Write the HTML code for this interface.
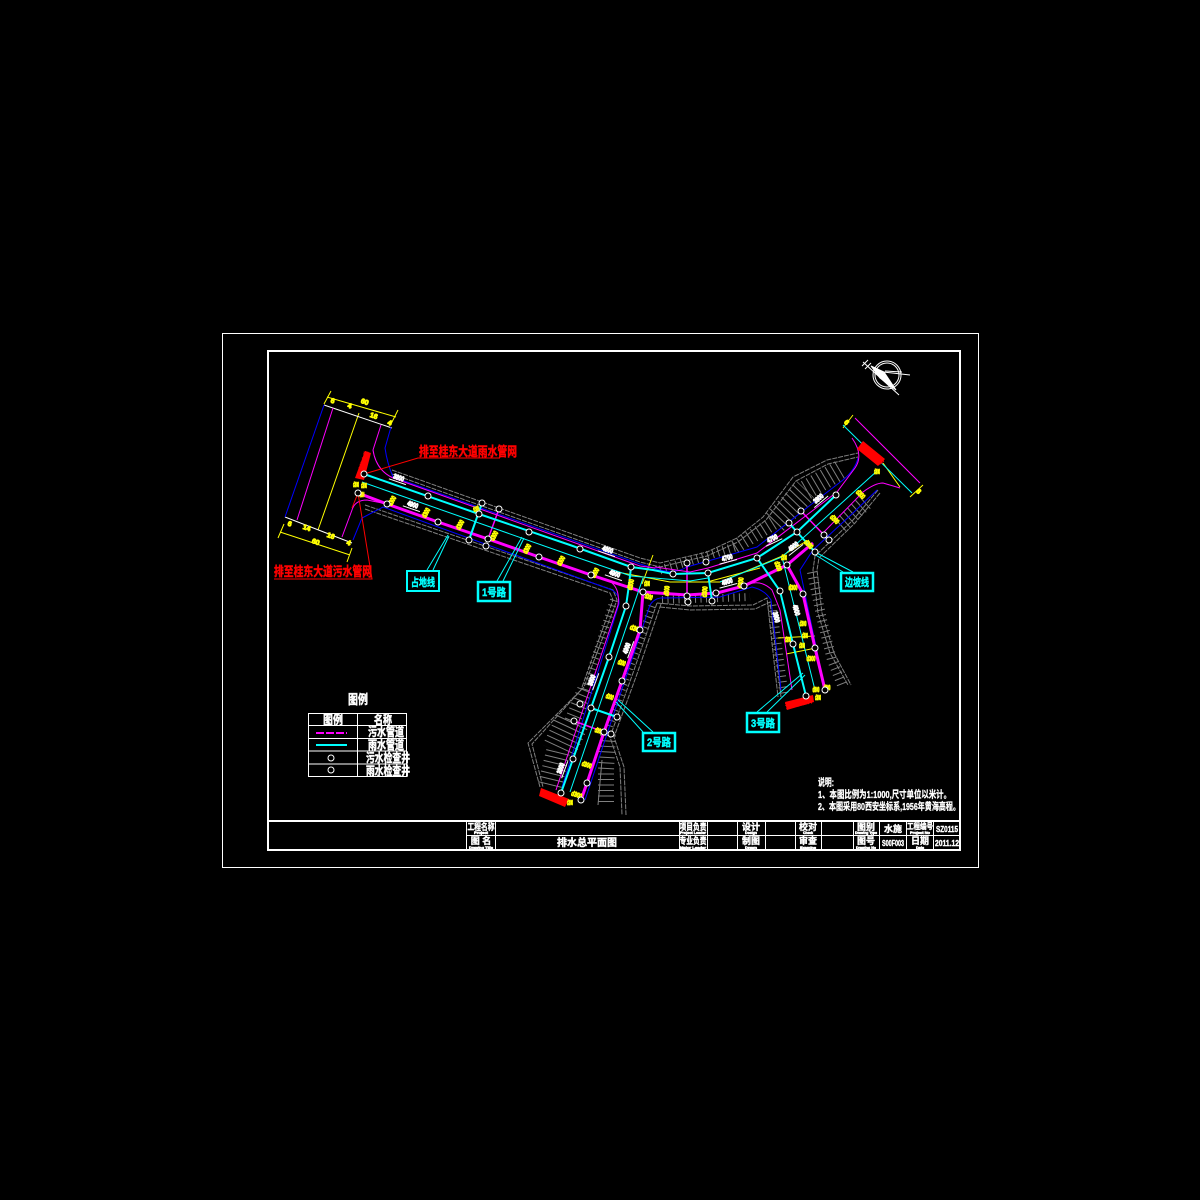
<!DOCTYPE html>
<html><head><meta charset="utf-8"><style>
html,body{margin:0;padding:0;background:#000}
svg{display:block}
text{font-family:"Liberation Sans","Noto Sans CJK SC",sans-serif;font-weight:700}
.h{fill:none;stroke:#808080;stroke-dasharray:1 4.5}
.g{fill:none;stroke:#808080;stroke-width:1}
.b{fill:none;stroke:#0000ff;stroke-width:1}
.m{fill:none;stroke:#ff00ff;stroke-width:1}
.M{fill:none;stroke:#ff00ff;stroke-width:3}
.c{fill:none;stroke:#00ffff;stroke-width:1}
.C{fill:none;stroke:#00ffff;stroke-width:2}
.y{fill:none;stroke:#ffff00;stroke-width:1}
.r{fill:none;stroke:#ff0000;stroke-width:1}
.w{fill:none;stroke:#fff;stroke-width:1}
.o circle{fill:#000;stroke:#fff;stroke-width:1;r:3px}
.yt text{fill:#ff0;stroke:#ff0;stroke-width:.9px;font-size:7px;text-anchor:middle}
.wt text{fill:#fff;stroke:#fff;stroke-width:1px;font-size:7px;text-anchor:middle}
.wt path{stroke:#fff;stroke-width:1;fill:none}
.rt{fill:#f00;stroke:#f00;stroke-width:.5px;font-size:13px}
.ct{fill:#0ff;stroke:#0ff;stroke-width:.4px;font-size:11px;text-anchor:middle}
.tt text{fill:#fff;stroke:#fff;stroke-width:.4px;font-size:9px;text-anchor:middle}
.tt text.s{font-size:4px;stroke-width:.6px}
.lg text{fill:#fff;stroke:#fff;stroke-width:.5px;text-anchor:middle;font-size:12px}
.nt text{fill:#fff;stroke:#fff;stroke-width:.3px;font-size:10px}
</style></head><body>
<svg width="1200" height="1200" viewBox="0 0 1200 1200" xmlns="http://www.w3.org/2000/svg">
<rect width="1200" height="1200" fill="#000"/>
<rect x="222.5" y="333.5" width="756" height="534" fill="none" stroke="#fff"/>
<rect x="268" y="351" width="692" height="499" fill="none" stroke="#fff" stroke-width="2"/>
<path d="M268 821H960" stroke="#fff" stroke-width="2"/>
<path d="M466 835.5H960M466.5 821V850M495.5 821V850M679.5 821V850M707.5 821V850M737.5 821V850M765.5 821V850M795.5 821V850M821.5 821V850M853.5 821V850M879.5 821V850M906.5 821V850M933.5 821V850" stroke="#fff" fill="none"/>

<!-- hatch -->
<g class="h">
<path stroke-width="9" d="M660 570L735 547"/>
<path stroke-width="14" d="M735 547L775 522"/>
<path stroke-width="25" d="M775 522L806 490"/>
<path stroke-width="20" d="M806 490L840 470"/>
<path stroke-width="8" d="M662 600L750 597"/>
<path stroke-width="8" d="M614 600L585 690"/>
<path stroke-width="16" d="M585 690L572 722"/>
<path stroke-width="34" d="M572 722L558 752"/>
<path stroke-width="24" d="M558 752L550 785"/>
<path stroke-width="7" d="M652 606L622 690L608 730"/>
<path stroke-width="16" d="M608 735L606 770L606 805"/>
<path stroke-width="9" d="M772 605L784 695"/>
<path stroke-width="10" d="M812 572L822 620L832 660L842 685"/>
<path stroke-width="16" d="M840 525L868 500"/>
</g>

<!-- gray boundaries -->
<g class="g">
<path d="M392 470L640 558L660 563L707 552L737 538L763 517L793 477L827 460L858 453" stroke-dasharray="5 1"/>
<path d="M392 474L640 562L660 567L707 556L738 542L766 520L796 481L828 464L858 457" stroke-dasharray="5 1"/>
<path d="M365 505L613 590L617 600L584 687L528 743L540 787" stroke-dasharray="5 1"/>
<path d="M365 509L610 593L613 600L581 690L532 744L543 787" stroke-dasharray="5 1"/>
<path d="M657 603L633 673L610 737L620 767L622 815" stroke-dasharray="5 1"/>
<path d="M661 604L637 674L614 737L624 767L626 815" stroke-dasharray="5 1"/>
<path d="M657 603L690 606L753 605L767 598L778 697" stroke-dasharray="5 1"/>
<path d="M660 607L690 610L755 609L770 602L781 697" stroke-dasharray="5 1"/>
<path d="M878 490L853 520L815 556L813 570L818 613L830 653L848 685" stroke-dasharray="5 1"/>
<path d="M880 493L855 523L819 558L817 570L822 613L834 653L851 685" stroke-dasharray="5 1"/>
<path d="M598 805L602 760"/>
</g>

<!-- left end -->
<g class="y">
<path d="M327 397L396 417M324 404L331 391M391 424L398 410"/>
<path d="M280 532L350 555M278 538L284 524M347 562L352 548"/>
<path d="M359 413L318 530"/>
<path d="M653 555L642 584"/>
<path d="M617 572L670 582L707 582L760 568"/>
<path d="M680 582L720 582L780 557L805 542"/>
<path d="M778 638L815 636M786 654L816 648"/>
<path d="M843 428L853 415M910 497L923 485"/>
<path d="M883 463L900 487"/>
</g>
<path class="w" d="M324 405L392 428M285 517L352 543" stroke-width="1.5"/>

<g class="b">
<path d="M324 405L285 517"/>
<path d="M391 427L385 448C387 462 390 470 393 477L640 564L660 570Q675 574 687 567L757 547L813 503L843 480Q855 470 858 458"/>
<path d="M353 540L362 518L383 507L612 590Q620 595 619 604L562 787"/>
<path d="M650 605L585 800"/>
<path d="M650 605Q655 597 665 598L720 597L752 587Q765 590 771 600L781 690"/>
<path d="M877 490L853 513L813 550L800 570L823 680"/>
</g>

<g class="m">
<path d="M333 408L297 520"/>
<path d="M381 425L373 450Q376 470 393 478L640 566L655 568"/>
<path d="M342 537L352 510Q355 500 367 500L387 504"/>
<path d="M612 583Q620 590 618 605L556 790"/>
<path d="M655 567L690 572L708 568L757 553L837 492L855 468Q864 455 852 438"/>
<path d="M744 586Q760 578 772 590L780 610L792 690"/>
<path d="M823 533L863 492Q875 483 883 483L900 488"/>
<path d="M855 418L920 483"/>
</g>

<g class="M">
<path d="M358 493L387 504L438 522L488 539L539 557L591 575L643 592L687 595L717 593L744 586L787 565L813 543"/>
<path d="M643 592L640 630L622 681L604 732L587 783L581 800"/>
<path d="M787 565L803 594L815 648L825 690"/>
</g>
<g class="M" style="stroke-width:1.5"><path d="M499 509L488 539M687 563V596M801 511L824 535M574 721L604 732"/></g>

<g class="c">
<path d="M843 425L912 493"/>
<path d="M362 482L570 555L631 576"/>
<path d="M643 578L570 792"/>
<path d="M631 576L690 581L708 578M782 557L815 690"/>
<path d="M720 582L782 557L877 471"/>
<path d="M427 570L448 535M433 570L449 536"/>
<path d="M497 581L522 537M503 581L524 538"/>
<path d="M653 732L618 700M643 732L616 702"/>
<path d="M767 712L805 675M757 712L803 673"/>
<path d="M853 572L815 552M843 572L814 554"/>
</g>
<g class="C">
<path d="M364 474L479 514L570 545L631 567L653 570L673 574L708 573L757 558L797 532L836 495"/>
<path d="M631 567L629 585L626 606L609 657L591 708L573 759L561 793"/>
<path d="M757 558L780 591L793 644L806 696"/>
<path d="M482 503L469 540M708 573L712 601M789 523L797 532L815 552M591 708L617 717"/>
</g>

<!-- red leaders -->
<g class="r">
<path d="M364 474L418 458H500"/>
<path d="M274 579H372L358 493L352 508"/>
</g>
<text class="rt" x="419" y="456" textLength="98" lengthAdjust="spacingAndGlyphs">排至桂东大道雨水管网</text>
<text class="rt" x="274" y="576" textLength="98" lengthAdjust="spacingAndGlyphs">排至桂东大道污水管网</text>

<g fill="#f00">
<path d="M355 478L365 451L371 453L364 480Z"/>
<path d="M541 788L569 799L565 807L539 796Z"/>
<path d="M785 702L813 695L814 702L787 710Z"/>
<path d="M863 441L885 459L878 466L857 449Z"/>
</g>
<g fill="#f00" stroke="#f00" stroke-width=".4" font-size="7">
<text transform="translate(362,477) rotate(-72)" textLength="26" lengthAdjust="spacingAndGlyphs">污水检查井</text>
<text transform="translate(541,795) rotate(21)" textLength="28" lengthAdjust="spacingAndGlyphs">污水检查井</text>
<text transform="translate(786,709) rotate(-14)" textLength="28" lengthAdjust="spacingAndGlyphs">污水检查井</text>
<text transform="translate(860,447) rotate(40)" textLength="28" lengthAdjust="spacingAndGlyphs">污水检查井</text>
</g>

<!-- yellow labels -->
<g class="yt">
<text transform="translate(394,502) rotate(-60)" textLength="10" lengthAdjust="spacingAndGlyphs">d300</text>
<text transform="translate(428,514) rotate(-60)" textLength="10" lengthAdjust="spacingAndGlyphs">d300</text>
<text transform="translate(462,526) rotate(-60)" textLength="10" lengthAdjust="spacingAndGlyphs">d300</text>
<text transform="translate(477,511) rotate(-20)" textLength="6" lengthAdjust="spacingAndGlyphs">d300</text>
<text transform="translate(496,537) rotate(-60)" textLength="10" lengthAdjust="spacingAndGlyphs">d300</text>
<text transform="translate(529,550) rotate(-60)" textLength="10" lengthAdjust="spacingAndGlyphs">d300</text>
<text transform="translate(563,562) rotate(-60)" textLength="10" lengthAdjust="spacingAndGlyphs">d300</text>
<text transform="translate(597,574) rotate(-60)" textLength="10" lengthAdjust="spacingAndGlyphs">d300</text>
<text transform="translate(633,585) rotate(-80)" textLength="11" lengthAdjust="spacingAndGlyphs">d300</text>
<text transform="translate(647,586)" textLength="6" lengthAdjust="spacingAndGlyphs">d300</text>
<text transform="translate(648,599) rotate(19)" textLength="8" lengthAdjust="spacingAndGlyphs">d300</text>
<text transform="translate(669,591) rotate(-85)" textLength="10" lengthAdjust="spacingAndGlyphs">d300</text>
<text transform="translate(707,592) rotate(-85)" textLength="11" lengthAdjust="spacingAndGlyphs">d300</text>
<text transform="translate(743,583) rotate(-85)" textLength="11" lengthAdjust="spacingAndGlyphs">d300</text>
<text transform="translate(635,631) rotate(19)" textLength="12" lengthAdjust="spacingAndGlyphs">d300</text>
<text transform="translate(621,665) rotate(19)" textLength="8" lengthAdjust="spacingAndGlyphs">d300</text>
<text transform="translate(609,699) rotate(19)" textLength="8" lengthAdjust="spacingAndGlyphs">d300</text>
<text transform="translate(598,733) rotate(19)" textLength="8" lengthAdjust="spacingAndGlyphs">d300</text>
<text transform="translate(586,767) rotate(19)" textLength="10" lengthAdjust="spacingAndGlyphs">d300</text>
<text transform="translate(576,797) rotate(19)" textLength="11" lengthAdjust="spacingAndGlyphs">d300</text>
<text transform="translate(570,805)" textLength="6" lengthAdjust="spacingAndGlyphs">d300</text>
<text transform="translate(859,496) rotate(45)" textLength="10" lengthAdjust="spacingAndGlyphs">d300</text>
<text transform="translate(833,521) rotate(45)" textLength="10" lengthAdjust="spacingAndGlyphs">d300</text>
<text transform="translate(807,546) rotate(45)" textLength="10" lengthAdjust="spacingAndGlyphs">d300</text>
<text transform="translate(776,567) rotate(70)" textLength="10" lengthAdjust="spacingAndGlyphs">d300</text>
<text transform="translate(784,560)" textLength="6" lengthAdjust="spacingAndGlyphs">d300</text>
<text transform="translate(793,590)" textLength="9" lengthAdjust="spacingAndGlyphs">d300</text>
<text transform="translate(803,626)" textLength="7" lengthAdjust="spacingAndGlyphs">d300</text>
<text transform="translate(805,638)" textLength="6" lengthAdjust="spacingAndGlyphs">d300</text>
<text transform="translate(788,642)" textLength="6" lengthAdjust="spacingAndGlyphs">d300</text>
<text transform="translate(802,648)" textLength="6" lengthAdjust="spacingAndGlyphs">d300</text>
<text transform="translate(811,661)" textLength="9" lengthAdjust="spacingAndGlyphs">d300</text>
<text transform="translate(816,692)" textLength="7" lengthAdjust="spacingAndGlyphs">d300</text>
<text transform="translate(827,690)" textLength="7" lengthAdjust="spacingAndGlyphs">d300</text>
<text transform="translate(818,700)" textLength="6" lengthAdjust="spacingAndGlyphs">d300</text>
<text transform="translate(877,474)" textLength="6" lengthAdjust="spacingAndGlyphs">d300</text>
<text transform="translate(356,487)" textLength="6" lengthAdjust="spacingAndGlyphs">d300</text>
<text transform="translate(364,488)" textLength="6" lengthAdjust="spacingAndGlyphs">d300</text>
<text transform="translate(362,497)" textLength="5" lengthAdjust="spacingAndGlyphs">d300</text>
<text transform="translate(332,403) rotate(19)">6</text>
<text transform="translate(349,408) rotate(19)">4</text>
<text transform="translate(364,404) rotate(19)">60</text>
<text transform="translate(373,418) rotate(19)">16</text>
<text transform="translate(389,425) rotate(19)">4</text>
<text transform="translate(289,526) rotate(19)">6</text>
<text transform="translate(306,530) rotate(19)">14</text>
<text transform="translate(315,544) rotate(19)">60</text>
<text transform="translate(330,538) rotate(19)">16</text>
<text transform="translate(348,545) rotate(19)">4</text>
<text transform="translate(845,424) rotate(45)">6</text>
<text transform="translate(917,493) rotate(45)">6</text>
</g>

<!-- white dim labels -->
<g class="wt">
<g transform="translate(399,477) rotate(19)"><text y="3" textLength="11" lengthAdjust="spacingAndGlyphs">3800</text><path d="M-9 5H9"/></g>
<g transform="translate(413,504) rotate(19)"><text y="3" textLength="11" lengthAdjust="spacingAndGlyphs">4900</text><path d="M-9 5H9"/></g>
<g transform="translate(608,549) rotate(19)"><text y="3" textLength="11" lengthAdjust="spacingAndGlyphs">4800</text><path d="M-9 5H9"/></g>
<g transform="translate(615,573) rotate(19)"><text y="3" textLength="11" lengthAdjust="spacingAndGlyphs">4900</text><path d="M-9 5H9"/></g>
<g transform="translate(626,648) rotate(-70)"><text y="3" textLength="11" lengthAdjust="spacingAndGlyphs">4900</text><path d="M-9 5H9"/></g>
<g transform="translate(591,680) rotate(-70)"><text y="3" textLength="11" lengthAdjust="spacingAndGlyphs">3800</text><path d="M-9 5H9"/></g>
<g transform="translate(560,768) rotate(-70)"><text y="3" textLength="11" lengthAdjust="spacingAndGlyphs">3800</text><path d="M-9 5H9"/></g>
<g transform="translate(727,557) rotate(-15)"><text y="3" textLength="11" lengthAdjust="spacingAndGlyphs">4700</text><path d="M-9 5H9"/></g>
<g transform="translate(727,581) rotate(-15)"><text y="3" textLength="11" lengthAdjust="spacingAndGlyphs">4900</text><path d="M-9 5H9"/></g>
<g transform="translate(772,538) rotate(-25)"><text y="3" textLength="11" lengthAdjust="spacingAndGlyphs">4700</text><path d="M-9 5H9"/></g>
<g transform="translate(793,546) rotate(-38)"><text y="3" textLength="11" lengthAdjust="spacingAndGlyphs">4900</text><path d="M-9 5H9"/></g>
<g transform="translate(818,498) rotate(-40)"><text y="3" textLength="11" lengthAdjust="spacingAndGlyphs">3800</text><path d="M-9 5H9"/></g>
<g transform="translate(797,610) rotate(75)"><text y="3" textLength="11" lengthAdjust="spacingAndGlyphs">4900</text></g>
<g transform="translate(777,617) rotate(75)"><text y="3" textLength="11" lengthAdjust="spacingAndGlyphs">3800</text></g>
</g>

<!-- manholes -->
<g class="o">
<circle cx="364" cy="474"/><circle cx="358" cy="493"/><circle cx="387" cy="504"/><circle cx="428" cy="496"/><circle cx="438" cy="522"/><circle cx="479" cy="514"/><circle cx="482" cy="503"/><circle cx="499" cy="509"/><circle cx="488" cy="539"/><circle cx="469" cy="540"/><circle cx="486" cy="546"/><circle cx="529" cy="532"/><circle cx="539" cy="557"/><circle cx="580" cy="549"/><circle cx="591" cy="575"/><circle cx="631" cy="567"/><circle cx="643" cy="592"/><circle cx="673" cy="574"/><circle cx="687" cy="563"/><circle cx="706" cy="562"/><circle cx="708" cy="573"/><circle cx="687" cy="596"/><circle cx="688" cy="602"/><circle cx="712" cy="601"/><circle cx="716" cy="593"/><circle cx="744" cy="586"/><circle cx="757" cy="558"/><circle cx="787" cy="565"/><circle cx="780" cy="591"/><circle cx="789" cy="523"/><circle cx="797" cy="532"/><circle cx="801" cy="511"/><circle cx="824" cy="535"/><circle cx="829" cy="540"/><circle cx="815" cy="552"/><circle cx="836" cy="495"/><circle cx="803" cy="594"/><circle cx="793" cy="644"/><circle cx="815" cy="648"/><circle cx="806" cy="696"/><circle cx="825" cy="690"/><circle cx="626" cy="606"/><circle cx="640" cy="630"/><circle cx="609" cy="657"/><circle cx="622" cy="681"/><circle cx="580" cy="704"/><circle cx="591" cy="708"/><circle cx="617" cy="717"/><circle cx="574" cy="721"/><circle cx="604" cy="732"/><circle cx="611" cy="734"/><circle cx="573" cy="759"/><circle cx="587" cy="783"/><circle cx="561" cy="793"/><circle cx="581" cy="800"/>
</g>

<!-- cyan tag boxes -->
<g fill="none" stroke="#0ff">
<rect x="407" y="571" width="32" height="20" stroke-width="2"/>
<rect x="478" y="582" width="32" height="19" stroke-width="2.5"/>
<rect x="643" y="733" width="32" height="18" stroke-width="2.5"/>
<rect x="747" y="713" width="32" height="19" stroke-width="2.5"/>
<rect x="841" y="573" width="32" height="18" stroke-width="2.5"/>
</g>
<text class="ct" x="423" y="586" textLength="24" lengthAdjust="spacingAndGlyphs">占地线</text>
<text class="ct" x="494" y="596" textLength="24" lengthAdjust="spacingAndGlyphs">1号路</text>
<text class="ct" x="659" y="746" textLength="24" lengthAdjust="spacingAndGlyphs">2号路</text>
<text class="ct" x="763" y="727" textLength="24" lengthAdjust="spacingAndGlyphs">3号路</text>
<text class="ct" x="857" y="586" textLength="24" lengthAdjust="spacingAndGlyphs">边坡线</text>

<!-- north arrow -->
<g fill="none" stroke="#fff">
<circle cx="887" cy="375" r="14"/><circle cx="887" cy="375" r="12"/>
<path d="M863 362L899 395M883 372L910 375M885 371L902 372"/>
<path d="M871 366L884 372L896 390L880 378Z" fill="#fff"/>
<path d="M862 366L868 360M865 369L871 363"/>
</g>

<!-- legend -->
<g class="lg">
<text x="358" y="704" style="font-size:13px" textLength="20" lengthAdjust="spacingAndGlyphs">图例</text>
<text x="333" y="724" textLength="20" lengthAdjust="spacingAndGlyphs">图例</text>
<text x="383" y="724" textLength="18" lengthAdjust="spacingAndGlyphs">名称</text>
<text x="386" y="736" textLength="36" lengthAdjust="spacingAndGlyphs">污水管道</text>
<text x="386" y="749" textLength="36" lengthAdjust="spacingAndGlyphs">雨水管道</text>
<text x="388" y="762" textLength="44" lengthAdjust="spacingAndGlyphs">污水检查井</text>
<text x="388" y="775" textLength="44" lengthAdjust="spacingAndGlyphs">雨水检查井</text>
</g>
<g fill="none" stroke="#fff">
<rect x="308.5" y="713.5" width="98" height="63"/>
<path d="M357.5 713V777M308 725.5H407M308 738.5H407M308 751H407M308 764H407"/>
</g>
<path d="M316 733H347" stroke="#f0f" stroke-width="2" stroke-dasharray="8 2"/>
<path d="M316 745H347" stroke="#0ff" stroke-width="2"/>
<g fill="none" stroke="#fff"><circle cx="331" cy="758" r="3"/><circle cx="331" cy="770" r="3"/></g>

<!-- notes -->
<g class="nt">
<text x="818" y="786" textLength="16" lengthAdjust="spacingAndGlyphs">说明:</text>
<text x="818" y="798" textLength="133" lengthAdjust="spacingAndGlyphs">1、本图比例为1:1000,尺寸单位以米计。</text>
<text x="818" y="810" textLength="142" lengthAdjust="spacingAndGlyphs">2、本图采用80西安坐标系,1956年黄海高程。</text>
</g>

<!-- title block -->
<g class="tt">
<text x="481" y="830" textLength="27" lengthAdjust="spacingAndGlyphs">工程名称</text><text class="s" x="481" y="834" textLength="14" lengthAdjust="spacingAndGlyphs">Project</text>
<text x="481" y="844">图 名</text><text class="s" x="481" y="849" textLength="24" lengthAdjust="spacingAndGlyphs">Drawing Title</text>
<text x="587" y="846" style="font-size:10px">排水总平面图</text>
<text x="693" y="830" textLength="27" lengthAdjust="spacingAndGlyphs">项目负责</text><text class="s" x="693" y="834" textLength="26" lengthAdjust="spacingAndGlyphs">Project Leader</text>
<text x="693" y="844" textLength="27" lengthAdjust="spacingAndGlyphs">专业负责</text><text class="s" x="693" y="849" textLength="26" lengthAdjust="spacingAndGlyphs">Major Leader</text>
<text x="751" y="830">设计</text><text class="s" x="751" y="834" textLength="12" lengthAdjust="spacingAndGlyphs">Design</text>
<text x="751" y="844">制图</text><text class="s" x="751" y="849" textLength="12" lengthAdjust="spacingAndGlyphs">Drawn</text>
<text x="808" y="830">校对</text><text class="s" x="808" y="834" textLength="10" lengthAdjust="spacingAndGlyphs">Check</text>
<text x="808" y="844">审查</text><text class="s" x="808" y="849" textLength="16" lengthAdjust="spacingAndGlyphs">Examine</text>
<text x="866" y="830">图别</text><text class="s" x="866" y="834" textLength="22" lengthAdjust="spacingAndGlyphs">Drawing Type</text>
<text x="866" y="844">图号</text><text class="s" x="866" y="849" textLength="20" lengthAdjust="spacingAndGlyphs">Drawing No</text>
<text x="893" y="832">水施</text>
<text x="893" y="846" style="font-size:8px" textLength="22" lengthAdjust="spacingAndGlyphs">S00F003</text>
<text x="920" y="829" style="font-size:8px" textLength="26" lengthAdjust="spacingAndGlyphs">工程编号</text><text class="s" x="920" y="834" textLength="20" lengthAdjust="spacingAndGlyphs">Project No</text>
<text x="920" y="844">日期</text><text class="s" x="920" y="849" textLength="8" lengthAdjust="spacingAndGlyphs">Date</text>
<text x="947" y="832" style="font-size:8px" textLength="22" lengthAdjust="spacingAndGlyphs">SZ0115</text>
<text x="947" y="846" style="font-size:8px" textLength="24" lengthAdjust="spacingAndGlyphs">2011.12</text>
</g>
</svg>
</body></html>
